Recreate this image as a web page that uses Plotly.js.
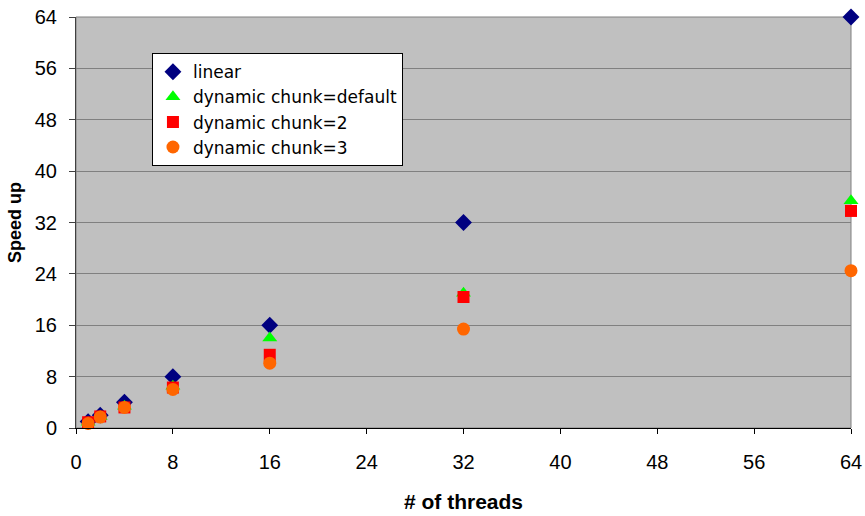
<!DOCTYPE html>
<html><head><meta charset="utf-8">
<script src="https://cdn.plot.ly/plotly-3.0.1.min.js"></script>
<style>html,body{margin:0;padding:0;background:#fff}#chart{width:865px;height:516px}</style>
</head><body><div id="chart"></div>
<script>
const threads = [1, 2, 4, 8, 16, 32, 64];
const linear = [1, 2, 4, 8, 16, 32, 64];
const dynDefault = [0.9, 1.8, 3.4, 6.5, 14.0, 21.0, 35.4];
const dynChunk2 = [0.9, 1.8, 3.2, 6.3, 11.4, 20.4, 33.8];
const dynChunk3 = [0.7, 1.7, 3.2, 6.0, 10.1, 15.4, 24.5];
const xTicks = [0, 8, 16, 24, 32, 40, 48, 56, 64];
const yTicks = [0, 8, 16, 24, 32, 40, 48, 56, 64];

const mk = (name, y, symbol, color, size) => ({
  x: threads, y: y, name: name, type: 'scatter', mode: 'markers',
  marker: {symbol: symbol, color: color, size: size, line: {width: 0}},
  cliponaxis: false
});
const data = [
  mk('linear', linear, 'diamond', '#000080', 13),
  mk('dynamic chunk=default', dynDefault, 'triangle-up', '#00FF00', 13),
  mk('dynamic chunk=2', dynChunk2, 'square', '#FF0000', 12),
  mk('dynamic chunk=3', dynChunk3, 'circle', '#FF6600', 13)
];
const layout = {
  width: 865, height: 516,
  margin: {l: 76, r: 14, t: 17, b: 88},
  paper_bgcolor: '#ffffff', plot_bgcolor: '#C0C0C0',
  font: {family: 'Liberation Sans, Arial, sans-serif', size: 16, color: '#000'},
  showlegend: true,
  legend: {x: 0.098, y: 0.912, xanchor: 'left', yanchor: 'top', bgcolor: '#ffffff',
    bordercolor: '#000000', borderwidth: 1,
    font: {family: 'DejaVu Sans, Liberation Sans, sans-serif', size: 17, color: '#000'},
    tracegroupgap: 0, itemwidth: 30},
  xaxis: {range: [0, 64], tickvals: xTicks, ticktext: xTicks.map(String), showgrid: false,
    zeroline: false, showline: true, linecolor: '#000', linewidth: 1,
    ticks: 'outside', ticklen: 5, tickcolor: '#000', ticklabelstandoff: 11,
    tickfont: {size: 20},
    title: {text: '<b># of threads</b>', standoff: 22, font: {size: 21}}},
  yaxis: {range: [0, 64], tickvals: yTicks, ticktext: yTicks.map(String), showgrid: true,
    gridcolor: '#808080', gridwidth: 1, zeroline: false, showline: true, linecolor: '#404040',
    linewidth: 1, ticks: 'outside', ticklen: 6, tickcolor: '#404040', ticklabelstandoff: 8,
    tickfont: {size: 20},
    title: {text: '<b>Speed up</b>', standoff: 8, font: {size: 18}}},
  shapes: [{type: 'rect', xref: 'paper', yref: 'paper', x0: 0, x1: 1, y0: 0, y1: 1,
    line: {color: '#808080', width: 1}, layer: 'below'}]
};
Plotly.newPlot('chart', data, layout, {displayModeBar: false, staticPlot: true});
</script></body></html>
